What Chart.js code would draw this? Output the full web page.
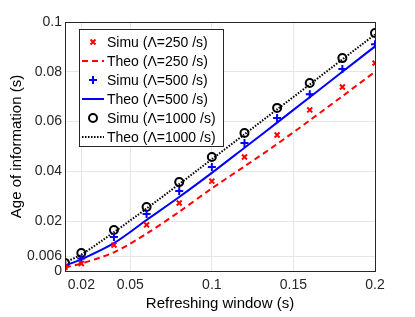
<!DOCTYPE html>
<html>
<head>
<meta charset="utf-8">
<script src="https://cdn.jsdelivr.net/npm/chart.js@4/dist/chart.umd.min.js"></script>
<style>
  body { margin: 0; background: #fff; }
  #wrap { position: relative; width: 415px; height: 317px; }
</style>
</head>
<body>
<div id="wrap"><canvas id="myChart" width="415" height="317"></canvas></div>
<script>
// values
const windows = [0.01, 0.02, 0.04, 0.06, 0.08, 0.1, 0.12, 0.14, 0.16, 0.18, 0.2];
const simu250 = [0.0015, 0.003, 0.0104, 0.0185, 0.0273, 0.0361, 0.0458, 0.0546, 0.0647, 0.0739, 0.0835];
const theo250 = [0.0014, 0.003, 0.0075, 0.015, 0.0238, 0.0332, 0.042, 0.051, 0.0605, 0.0702, 0.080];
const simu500 = [0.0025, 0.005, 0.0137, 0.0229, 0.0321, 0.0418, 0.0514, 0.0614, 0.071, 0.0811, 0.0911];
const theo500 = [0.0022, 0.0047, 0.0112, 0.0205, 0.0297, 0.0394, 0.0495, 0.0596, 0.0698, 0.080, 0.0902];
const simu1000 = [0.0032, 0.0072, 0.0165, 0.0257, 0.0357, 0.0458, 0.0554, 0.0655, 0.0755, 0.0855, 0.0956];
const theo1000 = [0.0035, 0.0066, 0.0156, 0.0251, 0.0349, 0.0449, 0.0549, 0.0649, 0.0749, 0.085, 0.095];
const xTicks = [0.02, 0.05, 0.1, 0.15, 0.2];
const yTicks = [0, 0.006, 0.02, 0.04, 0.06, 0.08, 0.1];

function pts(ys) {
    return windows.map((x, i) => ({x: x, y: ys[i]}));
}

const red = 'rgb(255, 0, 0)';
const blue = 'rgb(0, 0, 255)';
const black = 'rgb(0, 0, 0)';
const axisCol = '#262626';
const fam = '"Liberation Sans", Arial, sans-serif';

let data = {
    datasets: [
        {label: 'Simu (Λ=250 /s)', data: pts(simu250), showLine: false, pointStyle: 'crossRot',
         pointRadius: 3.5, borderColor: red, backgroundColor: red, pointBorderWidth: 2},
        {label: 'Theo (Λ=250 /s)', data: pts(theo250), pointRadius: 0, borderColor: red,
         borderWidth: 2, borderDash: [6, 4], tension: 0.3},
        {label: 'Simu (Λ=500 /s)', data: pts(simu500), showLine: false, pointStyle: 'cross',
         pointRadius: 4, borderColor: blue, backgroundColor: blue, pointBorderWidth: 2},
        {label: 'Theo (Λ=500 /s)', data: pts(theo500), pointRadius: 0, borderColor: blue,
         borderWidth: 2, tension: 0.3},
        {label: 'Simu (Λ=1000 /s)', data: pts(simu1000), showLine: false, pointStyle: 'circle',
         pointRadius: 4, borderColor: black, backgroundColor: 'rgba(0,0,0,0)', pointBorderWidth: 2},
        {label: 'Theo (Λ=1000 /s)', data: pts(theo1000), pointRadius: 0, borderColor: black,
         borderWidth: 2, borderDash: [1.5, 1.5], tension: 0.3}
    ]
};

// box around the axes + legend inside the plot, like matlab
const boxLegend = {
    id: 'boxLegend',
    afterDraw(chart) {
        const ctx = chart.ctx;
        const a = chart.chartArea;
        ctx.save();
        ctx.strokeStyle = axisCol;
        ctx.lineWidth = 1;
        ctx.setLineDash([]);
        ctx.strokeRect(a.left + 0.5, a.top + 0.5, a.right - a.left, a.bottom - a.top);

        // legend
        const lx = 79, ly = 29, lw = 144, lh = 117, row = 19;
        ctx.fillStyle = '#fff';
        ctx.fillRect(lx, ly, lw, lh);
        ctx.strokeStyle = axisCol;
        ctx.strokeRect(lx + 0.5, ly + 0.5, lw, lh);
        ctx.font = '14px ' + fam;
        ctx.textBaseline = 'middle';
        chart.data.datasets.forEach((ds, i) => {
            const cy = ly + 13 + i * row;
            if (ds.showLine === false) {
                ctx.lineWidth = 2;
                ctx.strokeStyle = ds.borderColor;
                ctx.fillStyle = ds.backgroundColor;
                Chart.helpers.drawPoint(ctx, {pointStyle: ds.pointStyle, radius: ds.pointRadius,
                    rotation: 0, borderWidth: 2}, 93, cy);
            } else {
                ctx.strokeStyle = ds.borderColor;
                ctx.lineWidth = 2;
                ctx.setLineDash(ds.borderDash || []);
                ctx.beginPath();
                ctx.moveTo(82, cy);
                ctx.lineTo(104, cy);
                ctx.stroke();
                ctx.setLineDash([]);
            }
            ctx.fillStyle = '#000';
            ctx.fillText(ds.label, 107, cy + 1);
        });
        ctx.restore();
    }
};

const config = {
    type: 'line',
    data: data,
    options: {
        responsive: false,
        animation: false,
        layout: {padding: {top: 22, right: 40, left: 4, bottom: 0}},
        plugins: {legend: {display: false}, tooltip: {enabled: false}},
        scales: {
            x: {
                type: 'linear', min: 0.01, max: 0.2,
                afterBuildTicks: s => { s.ticks = xTicks.map(v => ({value: v})); },
                afterFit: s => { s.height = 46; },
                grid: {color: '#e6e6e6', drawTicks: false},
                border: {display: false},
                ticks: {color: axisCol, padding: 6, maxRotation: 0, autoSkip: false,
                        font: {family: fam, size: 14},
                        callback: v => String(v)},
                title: {display: true, text: 'Refreshing window (s)', color: '#000',
                        font: {family: fam, size: 15}, padding: {top: 3}}
            },
            y: {
                type: 'linear', min: 0, max: 0.1,
                afterBuildTicks: s => { s.ticks = yTicks.map(v => ({value: v})); },
                afterFit: s => { s.width = 61; },
                grid: {color: '#e6e6e6', drawTicks: false},
                border: {display: false},
                ticks: {color: axisCol, padding: 3, autoSkip: false,
                        font: {family: fam, size: 14},
                        callback: v => String(v)},
                title: {display: true, text: 'Age of information (s)', color: '#000',
                        font: {family: fam, size: 15}, padding: {bottom: 0}}
            }
        }
    },
    plugins: [boxLegend]
};

const mychart = new Chart(document.getElementById('myChart'), config);
</script>
</body>
</html>
